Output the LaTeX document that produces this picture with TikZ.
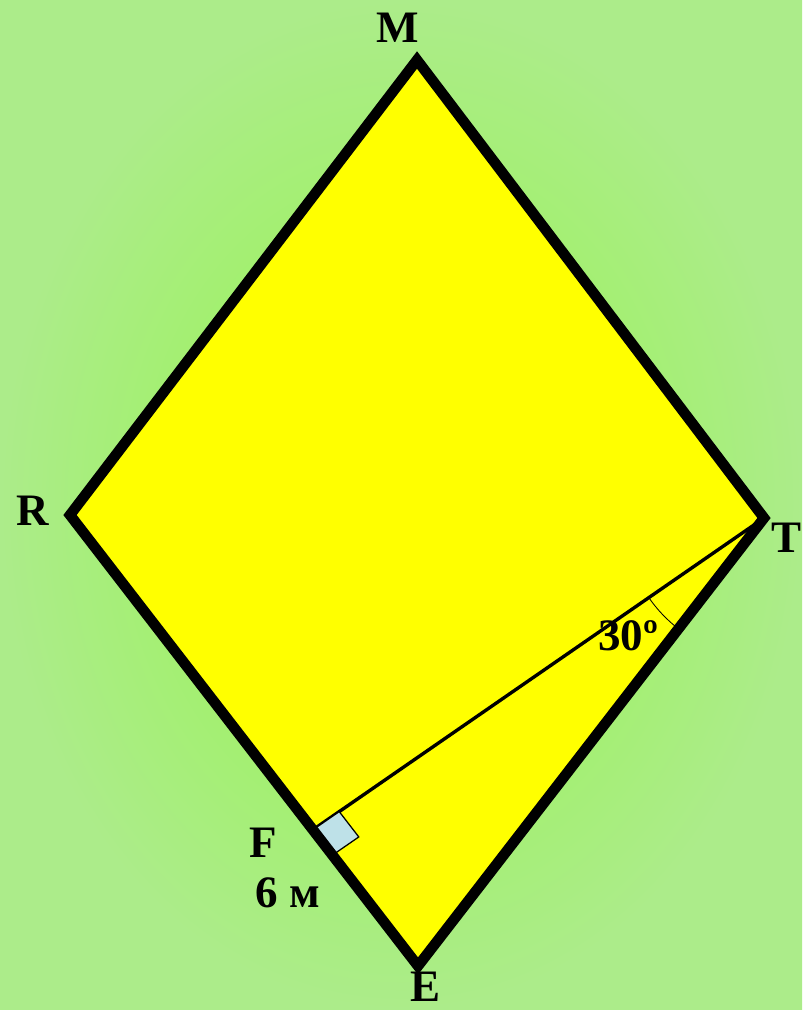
\documentclass[tikz,border=0pt]{standalone}
\usepackage{fontspec}
\setmainfont{Liberation Serif}
\usetikzlibrary{calc,angles}
\definecolor{bggreen}{RGB}{150,245,75}
\definecolor{bgpale}{RGB}{172,236,138}
\definecolor{rhombyellow}{RGB}{255,255,0}
\definecolor{squareblue}{RGB}{190,225,232}

\begin{document}
\begin{tikzpicture}[
    x=0.025cm, y=-0.025cm,
    lbl/.style={
        font=\fontsize{32}{32}\selectfont\bfseries,
        inner sep=0pt
    },
    edge/.style={
        line width=7.5pt,
        line join=miter
    },
    height/.style={
        line width=2.4pt
    }
]

\shade[inner color=bggreen, outer color=bgpale] (0,0) rectangle (802,1010);
\useasboundingbox (0,0) rectangle (802,1010);

\coordinate (M) at (417,60);
\coordinate (R) at (70,515);
\coordinate (T) at (764,518);
\coordinate (E) at (418,966);
\coordinate (F) at ($(R)!0.698!(E)$);

\fill[rhombyellow] (M) -- (T) -- (E) -- (R) -- cycle;

\draw[height] (T) -- (F);

\coordinate (FT) at ($(F)!0.8cm!(T)$);
\coordinate (FE) at ($(F)!0.8cm!(E)$);
\draw[fill=squareblue, line width=0.9pt] (F) -- (FT) -- ($(FT)+(FE)-(F)$) -- (FE) -- cycle;

\draw pic[draw, line width=0.6pt, angle radius=3.5cm] {angle=F--T--E};

\draw[edge] (M) -- (T) -- (E) -- (R) -- cycle;

\node[lbl] (labM) at (398,28) {M};
\node[lbl] (labR) at (33,511) {R};
\node[lbl] (labT) at (786,538) {T};
\node[lbl] (labE) at (425,987) {E};
\node[lbl] (labF) at (263,843) {F};
\node[lbl] (labLen) at (288,893) {6 м};
\node[lbl] (labAng) at (628,636) {30º};

\end{tikzpicture}
\end{document}
